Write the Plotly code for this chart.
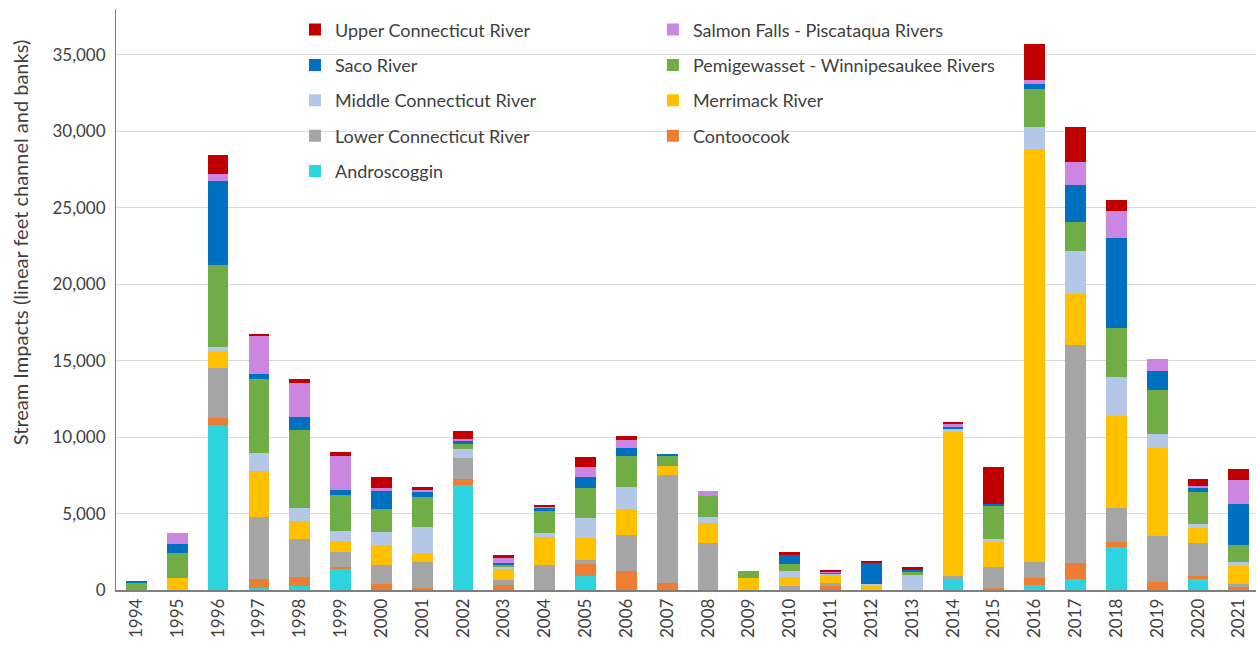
import plotly.graph_objects as go

years = [str(y) for y in range(1994, 2022)]

# Stream impacts per watershed, linear feet (stacked bottom to top)
androscoggin = [0, 0, 10790, 150, 260, 1350, 0, 0, 6890, 0, 0, 920, 0, 0,
                0, 0, 0, 0, 0, 0, 720, 0, 330, 750, 2830, 0, 750, 0]
contoocook = [0, 0, 430, 570, 570, 170, 390, 150, 370, 330, 0, 780, 1260, 440,
              0, 0, 0, 280, 0, 0, 0, 100, 480, 1000, 300, 550, 180, 200]
lower_ct = [0, 0, 3270, 4030, 2500, 980, 1240, 1700, 1390, 330, 1630, 280, 2350, 7100,
            3070, 0, 240, 170, 0, 0, 220, 1380, 1030, 14300, 2250, 3000, 2150, 180]
merrimack = [0, 800, 1130, 3050, 1180, 700, 1310, 550, 0, 720, 1810, 1390, 1680, 550,
             1290, 780, 630, 570, 280, 0, 9370, 1630, 26980, 3300, 6000, 5750, 1000, 1180]
middle_ct = [0, 0, 280, 1180, 830, 650, 830, 1740, 570, 150, 310, 1370, 1420, 0,
             390, 0, 350, 40, 110, 1000, 200, 250, 1450, 2850, 2550, 900, 230, 250]
pemigewasset = [480, 1590, 5340, 4840, 5120, 2350, 1500, 1960, 330, 170, 1440, 1900, 2030, 700,
                1370, 460, 480, 0, 0, 170, 0, 2130, 2500, 1850, 3200, 2850, 2130, 1150]
saco = [120, 650, 5490, 280, 870, 330, 1200, 280, 260, 70, 220, 780, 520, 90,
        0, 0, 650, 60, 1350, 200, 170, 150, 300, 2430, 5880, 1280, 200, 2680]
salmon_falls = [0, 720, 460, 2530, 2240, 2240, 170, 150, 70, 350, 70, 650, 550, 0,
                370, 0, 0, 60, 0, 0, 150, 0, 280, 1500, 1780, 780, 180, 1580]
upper_ct = [0, 0, 1240, 110, 200, 260, 740, 200, 500, 200, 110, 650, 260, 0,
            0, 0, 130, 80, 150, 130, 150, 2430, 2380, 2330, 730, 0, 430, 680]

# (name, values, colour, legend column, rank within column)
series = [
    ("Androscoggin", androscoggin, "#2DD3DE", "legend", 5),
    ("Contoocook", contoocook, "#ED7D31", "legend2", 4),
    ("Lower Connecticut River", lower_ct, "#A5A5A5", "legend", 4),
    ("Merrimack River", merrimack, "#FFC000", "legend2", 3),
    ("Middle Connecticut River", middle_ct, "#B4C7E7", "legend", 3),
    ("Pemigewasset - Winnipesaukee Rivers", pemigewasset, "#70AD47", "legend2", 2),
    ("Saco River", saco, "#0070C0", "legend", 2),
    ("Salmon Falls - Piscataqua Rivers", salmon_falls, "#CA86E0", "legend2", 1),
    ("Upper Connecticut River", upper_ct, "#C00000", "legend", 1),
]

FONT = "Lato"
TXT = "#404040"

fig = go.Figure()
for name, vals, color, leg, rank in series:
    fig.add_trace(go.Bar(
        x=years, y=vals, name=name,
        marker=dict(color=color, line=dict(width=0)),
        legend=leg, legendgroup=name, legendrank=rank,
    ))

legend_common = dict(
    orientation="v", traceorder="grouped", tracegroupgap=9,
    font=dict(family=FONT, size=18, color=TXT),
    bgcolor="rgba(255,255,255,0)", yanchor="top", xanchor="left",
    itemclick=False, itemdoubleclick=False,
)

fig.update_layout(
    width=1256, height=646,
    margin=dict(l=116, r=0, t=9, b=56),
    paper_bgcolor="white", plot_bgcolor="white",
    barmode="stack", bargap=0.49,
    font=dict(family=FONT, color=TXT),
    legend=dict(x=0.157, y=0.996, **legend_common),
    legend2=dict(x=0.471, y=0.996, **legend_common),
    xaxis=dict(
        type="category", range=[-0.5, 27.42],
        tickangle=-90, tickfont=dict(family=FONT, size=17, color=TXT),
        showline=True, linecolor="#7F7F7F", linewidth=1.5,
        showgrid=False, ticks="",
    ),
    yaxis=dict(
        range=[0, 38000], tickvals=list(range(0, 35001, 5000)),
        tickformat=",d", tickfont=dict(family=FONT, size=17, color=TXT),
        showgrid=True, gridcolor="#D9D9D9", gridwidth=1,
        showline=True, linecolor="#7F7F7F", linewidth=1,
        zeroline=False, ticks="", ticklabelstandoff=6,
    ),
    annotations=[dict(
        text="Stream Impacts (linear feet channel and banks)",
        textangle=-90, xref="paper", yref="paper",
        x=-0.0842, y=0.597, xanchor="center", yanchor="middle",
        showarrow=False, font=dict(family=FONT, size=20, color=TXT),
    )],
)

fig.write_html("out.html")
